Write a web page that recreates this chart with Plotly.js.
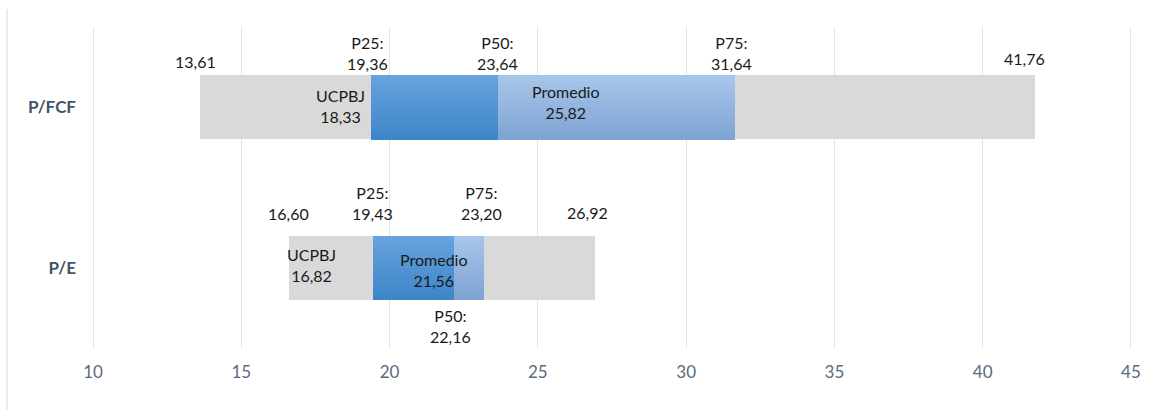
<!DOCTYPE html>
<html><head><meta charset="utf-8">
<script src="https://cdn.plot.ly/plotly-3.0.1.min.js"></script>
<style>html,body{margin:0;padding:0;background:#fff}#chart{width:1157px;height:410px}</style>
</head><body><div id="chart"></div>
<script>
// ---- data ----
const categories = ['P/FCF', 'P/E'];
const minVals = [13.61, 16.60];
const p25Vals = [19.36, 19.43];
const p50Vals = [23.64, 22.16];
const p75Vals = [31.64, 23.20];
const maxVals = [41.76, 26.92];
const ucpbjVals = [18.33, 16.82];
const promedioVals = [25.82, 21.56];
const xTickVals = [10, 15, 20, 25, 30, 35, 40, 45];
const xTickText = ['10', '15', '20', '25', '30', '35', '40', '45'];

// ---- style ----
const BAR_W = 0.4, STRIPS = 12;
const GRAY = '#d9d9d9';
const DARK_TOP = [104, 163, 222], DARK_BOT = [61, 133, 200];
const LIGHT_TOP = [168, 198, 235], LIGHT_BOT = [126, 163, 210];
const FONT = 'Lato, "Open Sans", sans-serif';
// per-category label placement (pixel shifts): [xshift, yshift]
const place = [
  {min: [-5, 46], max: [-10, 49], p25: [-3, 54], p50: [0, 54], p75: [-3, 54], uc: [0, 1], pr: [4, 5]},
  {min: [0, 54], max: [-7, 55], p25: [0, 65], p50: [-3, -58], p75: [-3, 65], uc: [16, 3], pr: [-2, -2]}
];

function mix(a, b, t) {
  const c = a.map((v, k) => Math.round(v + (b[k] - v) * t));
  return 'rgb(' + c.join(',') + ')';
}
function gradientBars(base, end, top, bot) {
  const traces = [];
  const len = end.map((v, i) => v - base[i]);
  for (let s = 0; s < STRIPS; s++) {
    traces.push({
      type: 'bar', orientation: 'h', y: categories, x: len, base: base,
      width: BAR_W / STRIPS + 0.002, offset: -BAR_W / 2 + s * BAR_W / STRIPS,
      marker: {color: mix(top, bot, (s + 0.5) / STRIPS), line: {width: 0}, opacity: 1},
      hoverinfo: 'skip', showlegend: false
    });
  }
  return traces;
}

const traces = [];
traces.push({
  type: 'bar', orientation: 'h', y: categories,
  x: maxVals.map((v, i) => v - minVals[i]), base: minVals,
  width: BAR_W, marker: {color: GRAY, line: {width: 0}, opacity: 1},
  hoverinfo: 'skip', showlegend: false
});
traces.push(...gradientBars(p25Vals, p50Vals, DARK_TOP, DARK_BOT));
traces.push(...gradientBars(p50Vals, p75Vals, LIGHT_TOP, LIGHT_BOT));

const fmt = v => v.toFixed(2).replace('.', ',');
const annotations = [];
function ann(x, y, text, sh) {
  annotations.push({x: x, y: y, xref: 'x', yref: 'y', text: text, showarrow: false,
    xanchor: 'center', yanchor: 'middle', xshift: sh[0], yshift: sh[1],
    font: {family: FONT, size: 16, color: '#1a1a1a'}});
}
categories.forEach((c, i) => {
  const p = place[i];
  ann(minVals[i], c, fmt(minVals[i]), p.min);
  ann(maxVals[i], c, fmt(maxVals[i]), p.max);
  ann(p25Vals[i], c, 'P25:<br>' + fmt(p25Vals[i]), p.p25);
  ann(p50Vals[i], c, 'P50:<br>' + fmt(p50Vals[i]), p.p50);
  ann(p75Vals[i], c, 'P75:<br>' + fmt(p75Vals[i]), p.p75);
  ann(ucpbjVals[i], c, 'UCPBJ<br>' + fmt(ucpbjVals[i]), p.uc);
  ann(promedioVals[i], c, 'Promedio<br>' + fmt(promedioVals[i]), p.pr);
});

// plot area 91..1133 px; range padded so 10 and 45 land at 93 and 1131 px
const layout = {
  width: 1157, height: 410,
  margin: {l: 91, r: 24, t: 27, b: 62, pad: 0},
  paper_bgcolor: '#fff', plot_bgcolor: '#fff',
  barmode: 'overlay', bargap: 0,
  showlegend: false,
  font: {family: FONT},
  xaxis: {
    range: [9.932, 45.068], tickvals: xTickVals, ticktext: xTickText,
    showgrid: true, gridcolor: '#e4e4e4', gridwidth: 1,
    zeroline: false, showline: false, ticks: '',
    ticklabelstandoff: 12,
    tickfont: {family: FONT, size: 17, color: '#5a6a80'}
  },
  yaxis: {
    type: 'category', categoryarray: categories, categoryorder: 'array',
    range: [1.5, -0.5], autorange: false,
    showgrid: false, zeroline: false, showline: false, ticks: '',
    ticklabelstandoff: 14,
    tickfont: {family: FONT, size: 17, color: '#44546a', weight: 'bold'}
  },
  shapes: [{type: 'line', xref: 'paper', yref: 'paper',
    x0: -0.0806, x1: -0.0806, y0: 1.056, y1: -0.2,
    line: {color: '#d9d9d9', width: 1}}],
  annotations: annotations
};

Plotly.newPlot('chart', traces, layout, {staticPlot: true, displayModeBar: false});
</script>
</body></html>
